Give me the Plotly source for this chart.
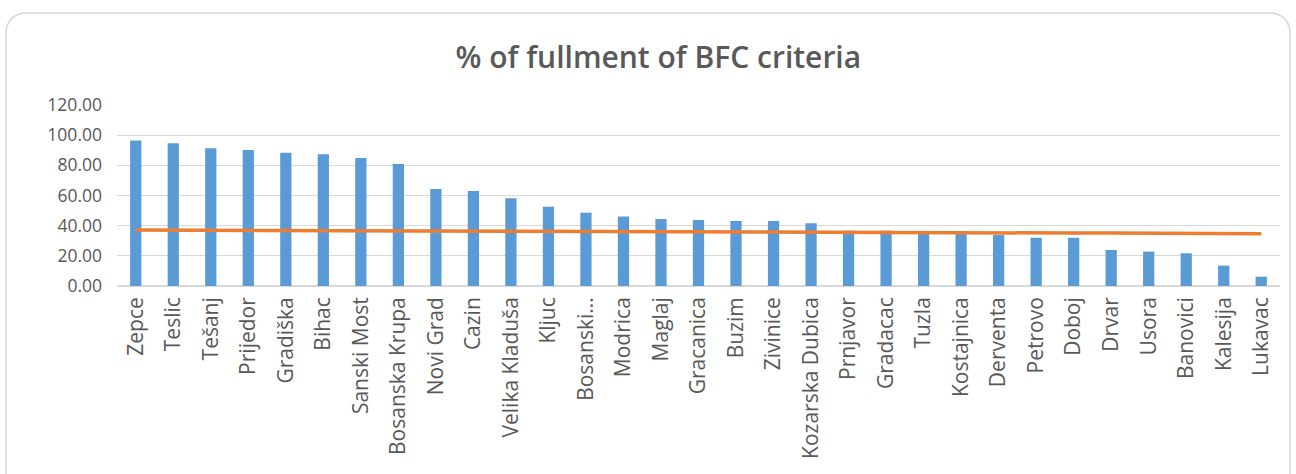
import plotly.graph_objects as go

categories = ["Zepce", "Teslic", "Tešanj", "Prijedor", "Gradiška", "Bihac", "Sanski Most",
              "Bosanska Krupa", "Novi Grad", "Cazin", "Velika Kladuša", "Kljuc", "Bosanski...",
              "Modrica", "Maglaj", "Gracanica", "Buzim", "Zivinice", "Kozarska Dubica",
              "Prnjavor", "Gradacac", "Tuzla", "Kostajnica", "Derventa", "Petrovo", "Doboj",
              "Drvar", "Usora", "Banovici", "Kalesija", "Lukavac"]
fulfilment = [96.4, 94.6, 91.3, 90.2, 88.4, 87.3, 84.9, 80.9, 64.3, 63.0, 58.1, 52.6, 48.6,
              46.0, 44.4, 43.8, 43.1, 43.1, 41.6, 36.7, 36.7, 34.5, 34.5, 33.8, 32.0, 32.0,
              23.9, 22.8, 21.7, 13.5, 6.2]
average_line = [37.1, 37.0, 37.0, 36.9, 36.8, 36.7, 36.7, 36.6, 36.5, 36.4, 36.3, 36.3, 36.2,
                36.1, 36.0, 35.9, 35.9, 35.8, 35.7, 35.6, 35.5, 35.5, 35.4, 35.3, 35.2, 35.1,
                35.1, 35.0, 34.9, 34.8, 34.7]
y_ticks = [0, 20, 40, 60, 80, 100, 120]

W, H = 1296, 474
L, R, T, B = 117, 16, 105, 188
TEXT = "#595959"

fig = go.Figure()
fig.add_trace(go.Bar(x=categories, y=fulfilment, marker_color="#5B9BD5",
                     marker_line_width=0, name="% fulfilment"))
fig.add_trace(go.Scatter(x=categories, y=average_line, mode="lines",
                         line=dict(color="#ED7D31", width=3.5), name="average"))

pw = W - L - R
ph = H - T - B
def px(x):
    return (x - L) / pw
def py(y):
    return (H - B - y) / ph

x0, x1, y0, y1, r = 6, 1290, 13, 480, 22
path = (f"M {px(x0)},{py(y0 + r)} Q {px(x0)},{py(y0)} {px(x0 + r)},{py(y0)} "
        f"L {px(x1 - r)},{py(y0)} Q {px(x1)},{py(y0)} {px(x1)},{py(y0 + r)} "
        f"L {px(x1)},{py(y1)} L {px(x0)},{py(y1)} Z")
fig.add_shape(type="path", path=path, xref="paper", yref="paper",
              line=dict(color="#D6D6D6", width=1.5), layer="below")

fig.update_layout(
    width=W, height=H,
    margin=dict(l=L, r=R, t=T, b=B),
    paper_bgcolor="white", plot_bgcolor="white",
    showlegend=False,
    bargap=0.7,
    font=dict(family="Open Sans", color=TEXT),
    title=dict(text="% of fullment of BFC criteria", x=0.508, xref="container",
               y=1 - 57 / H, yanchor="middle", xanchor="center",
               font=dict(size=30, color=TEXT, family="Open Sans", weight=600)),
)
fig.update_xaxes(type="category", tickangle=-90, tickfont=dict(size=21, color=TEXT),
                 showgrid=False, showline=False, ticks="", ticklabelstandoff=6)
fig.update_yaxes(range=[0, 120], tickvals=y_ticks, tickformat=".2f",
                 tickfont=dict(size=17.5, color=TEXT), showgrid=True,
                 gridcolor="#D9D9D9", gridwidth=1, zeroline=True, zerolinecolor="#D9D9D9",
                 showline=False, ticks="", ticklabelstandoff=14)

fig.write_html("out.html")
